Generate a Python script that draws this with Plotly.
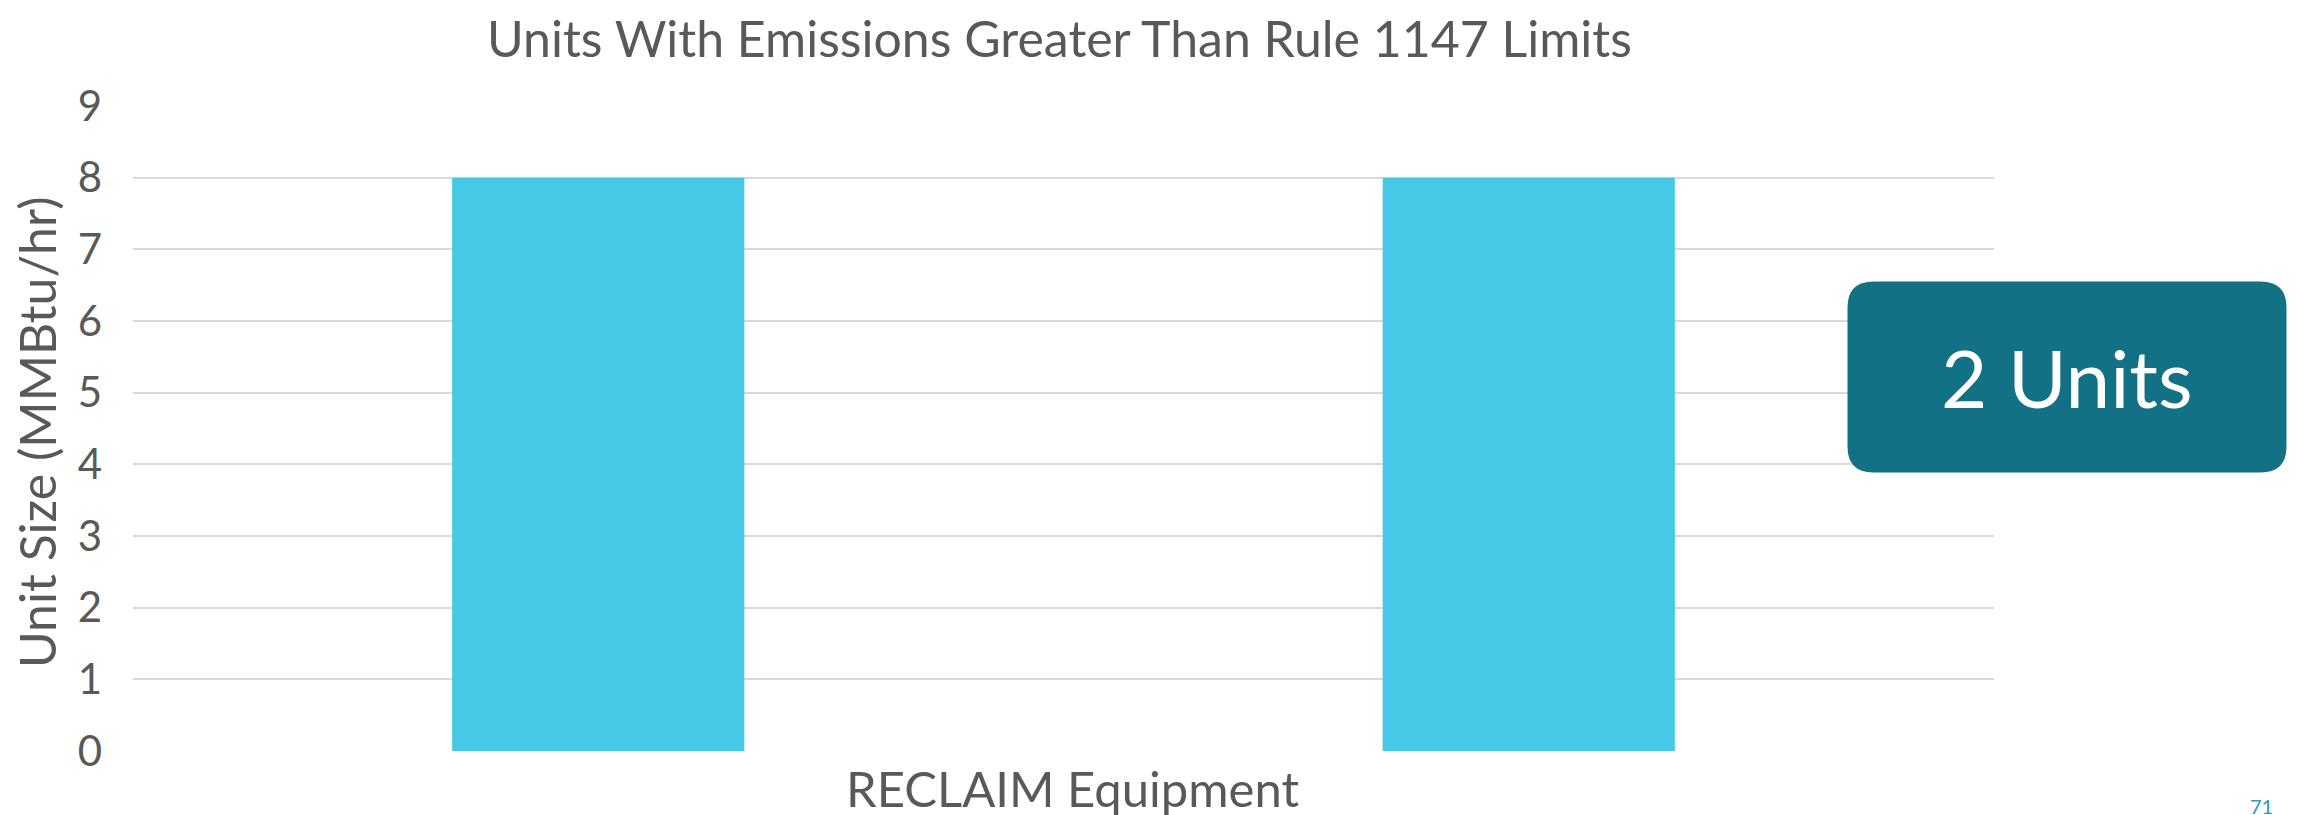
import plotly.graph_objects as go

categories = ["RECLAIM Equipment"]
unit_a = [8]
unit_b = [8]
y_ticks = [0, 1, 2, 3, 4, 5, 6, 7, 8, 9]
title_text = "Units With Emissions Greater Than Rule 1147 Limits"
y_title = "Unit Size (MMBtu/hr)"
callout_text = "2 Units"
page_number = "71"

W, H = 2298, 815
L, R, T, B = 125, 312, 98, 72
FONT = "Lato, 'Open Sans', sans-serif"
GREY = "#595959"
BAR = "#46C9E6"

fig = go.Figure()
fig.add_trace(go.Bar(x=categories, y=unit_a, marker=dict(color=BAR, line=dict(width=0)),
                     showlegend=False, hoverinfo="skip"))
fig.add_trace(go.Bar(x=categories, y=unit_b, marker=dict(color=BAR, line=dict(width=0)),
                     showlegend=False, hoverinfo="skip"))

pw = W - L - R
ph = H - T - B

def px(x):
    return (x - L) / pw

def py(y):
    return (H - B - y) / ph

# callout box
cx_px, cy_px = 2059, 369
bw, bh, r = 439, 191, 26
cx, cy = px(cx_px), py(cy_px)
hw, hh = bw / 2, bh / 2
path = (f"M {-hw + r},{-hh} L {hw - r},{-hh} Q {hw},{-hh} {hw},{-hh + r} "
        f"L {hw},{hh - r} Q {hw},{hh} {hw - r},{hh} L {-hw + r},{hh} "
        f"Q {-hw},{hh} {-hw},{hh - r} L {-hw},{-hh + r} Q {-hw},{-hh} {-hw + r},{-hh} Z")
fig.add_shape(type="path", path=path, xref="paper", yref="paper",
              xsizemode="pixel", ysizemode="pixel", xanchor=cx, yanchor=cy,
              fillcolor="#137185", line=dict(width=0), layer="above")

fig.update_layout(
    width=W, height=H,
    margin=dict(l=L, r=R, t=T, b=B),
    paper_bgcolor="white", plot_bgcolor="white",
    barmode="group", bargap=0.0, bargroupgap=0.686,
    font=dict(family=FONT, color=GREY),
    xaxis=dict(showgrid=False, showline=False, zeroline=False, showticklabels=False,
               ticks="", range=[-0.5, 0.5]),
    yaxis=dict(range=[0, 9], tickvals=y_ticks, showgrid=True, gridcolor="#D9D9D9",
               gridwidth=1.5, zeroline=False, showline=False, ticks="",
               tickfont=dict(size=42, color=GREY), ticklabelstandoff=30),
    annotations=[
        dict(text=title_text, xref="paper", yref="paper",
             x=px(1051), y=py(30), xanchor="center", yanchor="middle",
             showarrow=False, font=dict(size=50, color=GREY)),
        dict(text=y_title, xref="paper", yref="paper", textangle=-90,
             x=px(29), y=py(425), xanchor="center", yanchor="middle",
             showarrow=False, font=dict(size=50, color=GREY)),
        dict(text=categories[0], xref="paper", yref="paper",
             x=px(1064), y=py(780), xanchor="center", yanchor="middle",
             showarrow=False, font=dict(size=49, color=GREY)),
        dict(text=callout_text, xref="paper", yref="paper",
             x=cx, y=cy, xanchor="center", yanchor="middle",
             showarrow=False, font=dict(size=80, color="white")),
        dict(text=page_number, xref="paper", yref="paper",
             x=px(2253), y=py(798), xanchor="center", yanchor="middle",
             showarrow=False, font=dict(size=20, color="#2E9AC0")),
    ],
)

fig.write_html("out.html")
